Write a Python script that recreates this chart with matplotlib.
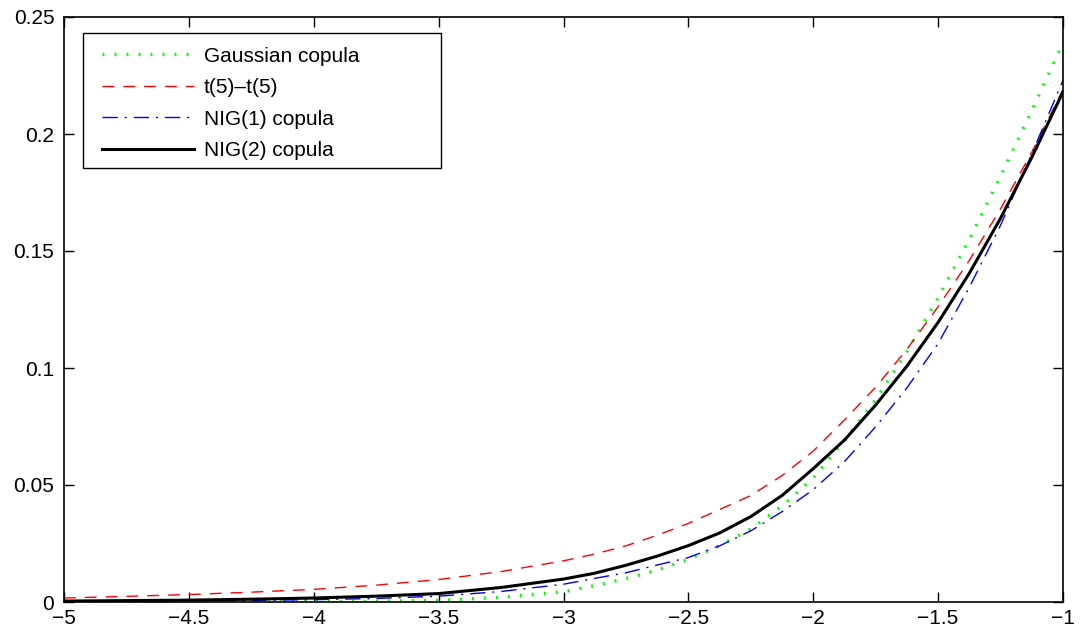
import matplotlib
matplotlib.use("Agg")
import matplotlib.pyplot as plt
from matplotlib.patches import Rectangle
from matplotlib.ticker import FuncFormatter

x = [-5, -4.75, -4.5, -4.25, -4, -3.75, -3.5, -3.25, -3, -2.875, -2.75, -2.625, -2.5,
     -2.375, -2.25, -2.125, -2, -1.875, -1.75, -1.625, -1.5, -1.375, -1.25, -1.125, -1]
gaussian = [0.0, 0.0, 0.0, 0.00005, 0.0001, 0.0003, 0.0007, 0.0020, 0.0044, 0.0070, 0.0100, 0.0136, 0.0182,
            0.0241, 0.0312, 0.0410, 0.0530, 0.0690, 0.0865, 0.1070, 0.1300, 0.1550, 0.1820, 0.2100, 0.2390]
t5t5 = [0.0017, 0.0024, 0.0032, 0.0042, 0.0054, 0.0072, 0.0096, 0.0130, 0.0176, 0.0205, 0.0240, 0.0285, 0.0336,
        0.0395, 0.0455, 0.0540, 0.0645, 0.0778, 0.0918, 0.1080, 0.1262, 0.1460, 0.1680, 0.1922, 0.2190]
nig1 = [0.0002, 0.0003, 0.0005, 0.0007, 0.0010, 0.0015, 0.0025, 0.0045, 0.0076, 0.0101, 0.0125, 0.0158, 0.0190,
        0.0240, 0.0304, 0.0386, 0.0480, 0.0600, 0.0749, 0.0915, 0.1105, 0.1345, 0.1610, 0.1915, 0.2230]
nig2 = [0.0004, 0.0006, 0.0008, 0.0012, 0.0017, 0.0025, 0.0036, 0.0062, 0.0098, 0.0123, 0.0157, 0.0196, 0.0241,
        0.0295, 0.0365, 0.0455, 0.0570, 0.0692, 0.0842, 0.1008, 0.1195, 0.1405, 0.1640, 0.1900, 0.2180]

xticks = [-5, -4.5, -4, -3.5, -3, -2.5, -2, -1.5, -1]
yticks = [0, 0.05, 0.1, 0.15, 0.2, 0.25]
labels = ["Gaussian copula", "t(5)\u2013t(5)", "NIG(1) copula", "NIG(2) copula"]

plt.rcParams['font.family'] = ['Liberation Sans', 'DejaVu Sans']
fig = plt.figure(figsize=(10.8, 6.37), dpi=100)
ax = fig.add_axes([64/1080, 35/637, (1063-64)/1080, (602-17)/637])

ax.plot(x, gaussian, color='#00ff00', linestyle=(0, (0.6, 3.0)), linewidth=2.4, label=labels[0])
ax.plot(x, t5t5, color='#ff0000', linestyle=(0, (8.5, 6.5)), linewidth=1.0, label=labels[1])
ax.plot(x, nig1, color='#0000ff', linestyle=(0, (11, 5, 1.5, 5)), linewidth=1.0, label=labels[2])
ax.plot(x, nig2, color='black', linestyle='-', linewidth=2.2, label=labels[3])

ax.set_xlim(-5, -1)
ax.set_ylim(0, 0.25)
ax.set_xticks(xticks)
ax.set_yticks(yticks)
ax.yaxis.set_major_formatter(FuncFormatter(lambda v, p: f"{v:g}"))
ax.xaxis.set_major_formatter(FuncFormatter(lambda v, p: f"{v:g}".replace('-', '\u2212')))
ax.tick_params(direction='in', top=True, right=True, length=7, width=1, labelsize=15)
ax.tick_params(axis='y', pad=7)
ax.tick_params(axis='x', pad=5)
for s in ax.spines.values():
    s.set_linewidth(1.2)

# legend frame box (drawn separately to match the wide MATLAB-style box)
ax.add_patch(Rectangle((0.019, 0.742), 0.358, 0.2308, transform=ax.transAxes,
                       facecolor='white', edgecolor='black', linewidth=1.0, zorder=4))
leg = ax.legend(loc='upper left', fontsize=15, frameon=False,
                handlelength=4.4, handletextpad=0.5, borderpad=0.0, labelspacing=0.6,
                bbox_to_anchor=(0.038, 0.9495), borderaxespad=0)
leg.set_zorder(5)

fig.savefig("out.png", dpi=100)
